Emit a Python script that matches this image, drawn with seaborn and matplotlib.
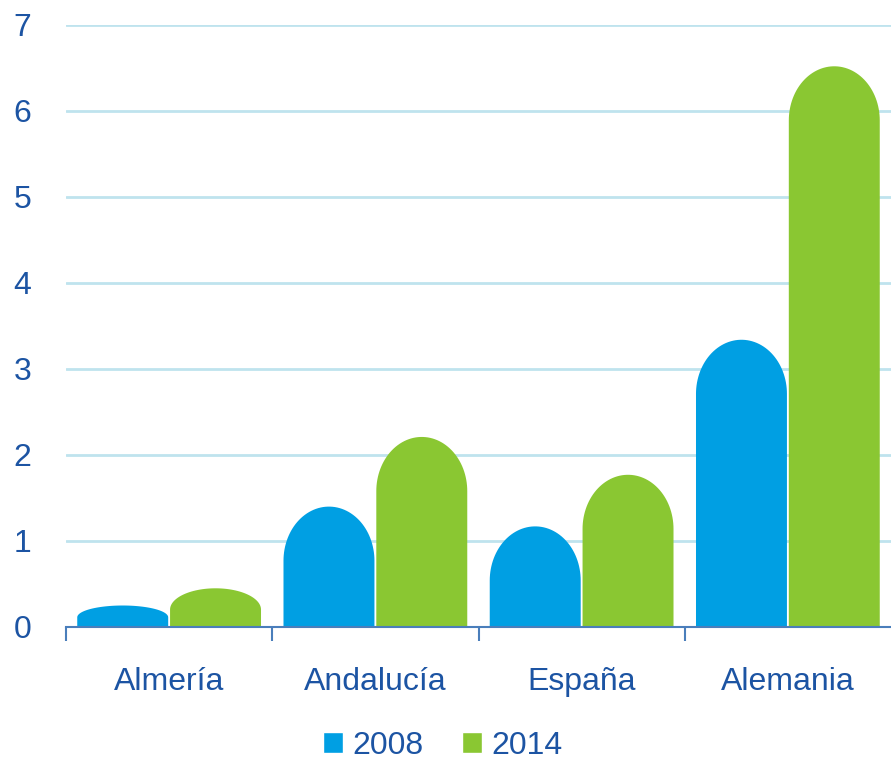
import numpy as np
import pandas as pd
import matplotlib
matplotlib.use("Agg")
import matplotlib.pyplot as plt
import seaborn as sns
from matplotlib.path import Path
from matplotlib.patches import PathPatch, Patch
from matplotlib.ticker import FixedLocator

# datos
regiones = ["Almería", "Andalucía", "España", "Alemania"]
anios = ["2008", "2014"]
valores_2008 = [0.25, 1.40, 1.17, 3.34]
valores_2014 = [0.45, 2.21, 1.77, 6.52]

df = pd.DataFrame({
    "region": regiones * 2,
    "anio": [anios[0]] * 4 + [anios[1]] * 4,
    "valor": valores_2008 + valores_2014,
})

azul = "#009FE3"
verde = "#8AC732"
texto = "#1C54A3"
linea_eje = "#4A7EBB"
rejilla = "#BFE3EE"

sns.set_theme(style="white")
plt.rcParams["font.family"] = ["Liberation Sans", "DejaVu Sans"]

fig = plt.figure(figsize=(8.91, 7.62), dpi=100)
ax = fig.add_axes([66 / 891, 1 - 627 / 762, 1 - 66 / 891, (627 - 25) / 762])

sns.barplot(data=df, x="region", y="valor", hue="anio",
            palette=[azul, verde], saturation=1, width=0.9, gap=0.02,
            ax=ax, legend=False)

# barras con la parte superior redondeada
for p in list(ax.patches):
    x0, w, h = p.get_x(), p.get_width(), p.get_height()
    if h <= 0:
        continue
    c = min(0.63, 0.55 * h)
    t = np.linspace(np.pi, 0, 60)
    xs = x0 + w / 2 + (w / 2) * np.cos(t)
    ys = (h - c) + c * np.sin(t)
    verts = [(x0, 0), (x0, h - c)] + list(zip(xs, ys)) + [(x0 + w, 0), (x0, 0)]
    codes = [Path.MOVETO] + [Path.LINETO] * (len(verts) - 2) + [Path.CLOSEPOLY]
    ax.add_patch(PathPatch(Path(verts, codes), facecolor=p.get_facecolor(),
                           edgecolor="none", zorder=3))
    p.set_visible(False)

ax.set_xlim(-0.5, 3.5)
ax.set_ylim(0, 7)
ax.set_yticks(range(0, 8))
ax.yaxis.grid(True, color=rejilla, linewidth=2)
ax.set_axisbelow(True)
ax.set_xlabel("")
ax.set_ylabel("")

for s in ["top", "right", "left"]:
    ax.spines[s].set_visible(False)
ax.spines["bottom"].set_color(linea_eje)
ax.spines["bottom"].set_linewidth(1.5)
ax.spines["bottom"].set_zorder(4)

ax.xaxis.set_minor_locator(FixedLocator([-0.5, 0.5, 1.5, 2.5]))
ax.tick_params(axis="x", which="minor", direction="out", length=10,
               width=1.5, color=linea_eje, bottom=True)
ax.tick_params(axis="x", which="major", length=0, pad=29,
               labelsize=23, labelcolor=texto)
ax.tick_params(axis="y", length=0, pad=25, labelsize=23, labelcolor=texto)

manejadores = [Patch(facecolor=azul, label=anios[0]),
               Patch(facecolor=verde, label=anios[1])]
fig.legend(handles=manejadores, loc="lower center", ncol=2, frameon=False,
           bbox_to_anchor=(0.497, -0.036), fontsize=23, labelcolor=texto,
           handlelength=0.62, handleheight=0.62, handletextpad=0.3,
           columnspacing=1.2)

fig.savefig("out.png", dpi=100)
